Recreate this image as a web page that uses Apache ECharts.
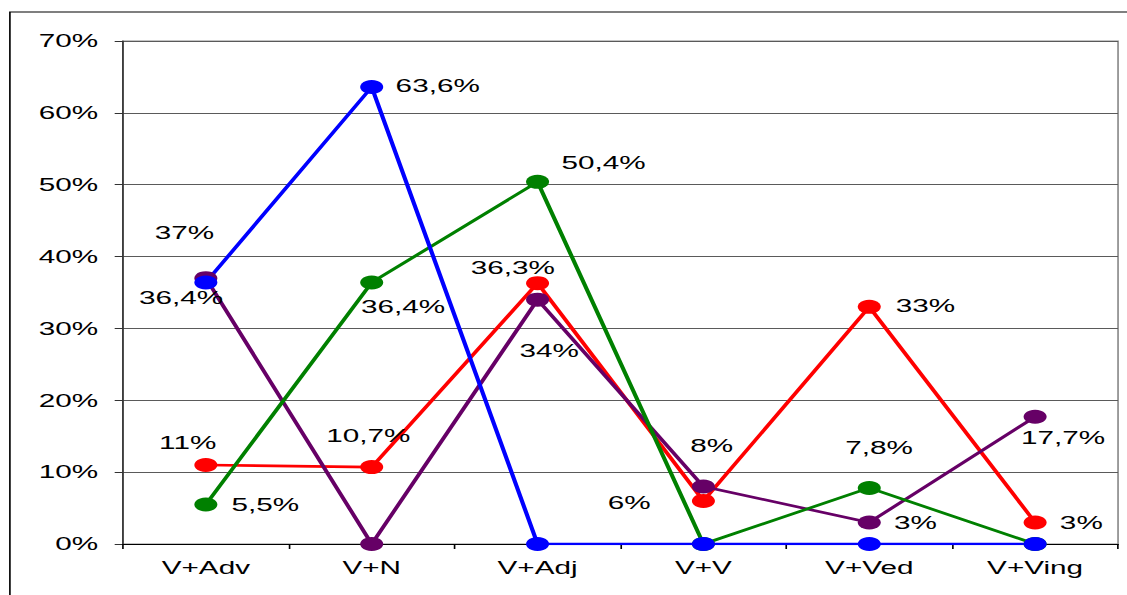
<!DOCTYPE html>
<html>
<head>
<meta charset="utf-8">
<script src="https://cdn.jsdelivr.net/npm/echarts@6/dist/echarts.min.js"></script>
<style>
  html, body { margin: 0; padding: 0; background: #fff; overflow: hidden; }
  /* The chart is laid out narrow and widened horizontally, giving the wide type and oval markers. */
  #wrap { width: 1127px; height: 595px; overflow: hidden; }
  #chart { width: 683px; height: 595px; transform: scaleX(1.65); transform-origin: 0 0; }
</style>
</head>
<body>
<div id="wrap"><div id="chart"></div></div>
<script>
const categories = ['V+Adv', 'V+N', 'V+Adj', 'V+V', 'V+Ved', 'V+Ving'];
const yTicks = [0, 10, 20, 30, 40, 50, 60, 70];

// Share of each construction, in percent
const blueValues   = [36.4, 63.6, 0, 0, 0, 0];
const greenValues  = [5.5, 36.4, 50.4, 0, 7.8, 0];
const redValues    = [11, 10.7, 36.3, 6, 33, 3];
const purpleValues = [37, 0, 34, 8, 3, 17.7];

// Label placement around each point (null = no label)
const blueLabelOffsets   = [[-15, 15], [40, -1], null, null, null, null];
const greenLabelOffsets  = [[36, 0], [19, 24], [40, -19], null, [6, -40], null];
const redLabelOffsets    = [[-11, -22], [-2, -31], [-15, -15], [-45, 2], [34, -1], [28, 0]];
const purpleLabelOffsets = [[-13, -45], null, [7, 51], [5, -41], [28, 0], [17, 21]];

const FONT = '"Liberation Sans", Arial, sans-serif';

function fmt(v) {
  return String(v).replace('.', ',') + '%';
}

function makeSeries(name, color, values, offsets) {
  return {
    name: name,
    type: 'line',
    data: values.map(function (v, i) {
      const off = offsets[i];
      return {
        value: v,
        label: off ? {
          show: true,
          position: 'inside',
          offset: off,
          formatter: fmt(v),
          color: '#000',
          fontSize: 18,
          fontFamily: FONT
        } : { show: false }
      };
    }),
    symbol: 'circle',
    symbolSize: 14,
    showAllSymbol: true,
    lineStyle: { color: color, width: 2.6 },
    itemStyle: { color: color },
    emphasis: { disabled: true },
    animation: false
  };
}

const chart = echarts.init(document.getElementById('chart'), null, { renderer: 'svg' });
chart.setOption({
  animation: false,
  backgroundColor: '#fff',
  graphic: [{
    type: 'rect',
    shape: { x: 6, y: 12, width: 700, height: 620 },
    style: { fill: 'none', stroke: '#000', lineWidth: 1 },
    silent: true,
    z: -10
  }],
  grid: {
    left: 74.5, right: 5.4, top: 41, bottom: 51,
    show: true, borderColor: '#8a8a8a', borderWidth: 1, backgroundColor: 'transparent'
  },
  xAxis: {
    type: 'category',
    data: categories,
    boundaryGap: true,
    axisLine: { lineStyle: { color: '#000', width: 1 } },
    axisTick: { show: true, length: 5, lineStyle: { color: '#000' } },
    axisLabel: { color: '#000', fontSize: 18, fontFamily: FONT, margin: 15 },
    splitLine: { show: false }
  },
  yAxis: {
    type: 'value',
    min: yTicks[0],
    max: yTicks[yTicks.length - 1],
    interval: 10,
    axisLine: { show: true, lineStyle: { color: '#333', width: 1 } },
    axisTick: { show: true, inside: false, length: 5, lineStyle: { color: '#333' } },
    axisLabel: { color: '#000', fontSize: 18, fontFamily: FONT, margin: 15, formatter: '{value}%' },
    splitLine: { show: true, lineStyle: { color: '#5a5a5a', width: 1 } }
  },
  series: [
    makeSeries('red', '#ff0000', redValues, redLabelOffsets),
    makeSeries('purple', '#660066', purpleValues, purpleLabelOffsets),
    makeSeries('green', '#008000', greenValues, greenLabelOffsets),
    makeSeries('blue', '#0000ff', blueValues, blueLabelOffsets)
  ]
});
</script>
</body>
</html>
